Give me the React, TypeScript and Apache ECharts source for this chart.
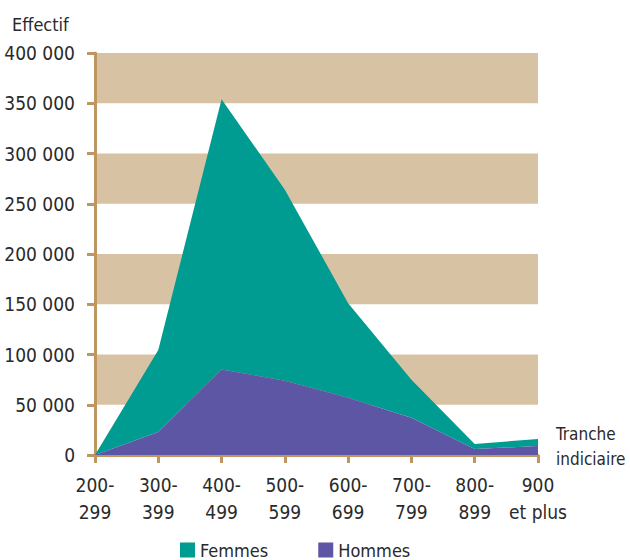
import React, { useEffect, useRef } from "react";
import * as echarts from "echarts";

const categories = ["200-\n299", "300-\n399", "400-\n499", "500-\n599", "600-\n699", "700-\n799", "800-\n899", "900\net plus"];
const hommes = [0, 23000, 85000, 74000, 57000, 37000, 6000, 9000];
const femmes = [0, 81500, 269000, 190000, 94000, 38000, 5000, 7000];
const yTicks = { min: 0, max: 400000, interval: 50000 };

const FONT = "'DejaVu Sans Condensed', sans-serif";
const AXIS = "#c09660";
const TEXT = "#2a2a2a";

function fmt(v: number) {
  return String(v).replace(/\B(?=(\d{3})+(?!\d))/g, " ");
}

export default function App() {
  const ref = useRef<HTMLDivElement>(null);
  useEffect(() => {
    const chart = echarts.init(ref.current!, null, { renderer: "svg" });
    chart.setOption({
      animation: false,
      textStyle: { fontFamily: FONT },
      grid: { left: 95, right: 92, top: 53, bottom: 105, containLabel: false, outerBoundsMode: "none" },
      legend: {
        data: ["Femmes", "Hommes"],
        left: 175,
        top: 536,
        icon: "rect",
        itemWidth: 15,
        itemHeight: 15,
        itemGap: 50,
        textStyle: { fontFamily: FONT, fontSize: 18, color: TEXT },
      },
      xAxis: {
        type: "category",
        data: categories,
        boundaryGap: false,
        name: "{a|Tranche}\n{a|indiciaire}\n{s| }",
        nameLocation: "end",
        nameGap: 18,
        nameMoveOverlap: false,
        nameTextStyle: {
          fontFamily: FONT,
          fontSize: 17,
          color: TEXT,
          align: "left",
          rich: {
            a: { fontFamily: FONT, fontSize: 17, color: TEXT, lineHeight: 25 },
            s: { fontSize: 10, lineHeight: 18 },
          },
        },
        axisLine: { lineStyle: { color: AXIS, width: 3 } },
        axisTick: { show: true, alignWithLabel: true, length: 8, lineStyle: { color: AXIS, width: 3 } },
        axisLabel: { fontFamily: FONT, fontSize: 19, color: TEXT, margin: 16, lineHeight: 27, interval: 0 },
        splitLine: { show: false },
      },
      yAxis: {
        type: "value",
        min: yTicks.min,
        max: yTicks.max,
        interval: yTicks.interval,
        name: "Effectif",
        nameLocation: "end",
        nameGap: 20,
        nameMoveOverlap: false,
        nameTextStyle: { fontFamily: FONT, fontSize: 18, color: TEXT, align: "left", padding: [0, 0, 0, -83] },
        axisLine: { show: true, lineStyle: { color: AXIS, width: 3 } },
        axisTick: { show: true, length: 8, lineStyle: { color: AXIS, width: 3 } },
        axisLabel: { fontFamily: FONT, fontSize: 19, color: TEXT, margin: 20, formatter: (v: number) => fmt(v) },
        splitLine: { show: false },
        splitArea: { show: true, areaStyle: { color: ["rgba(0,0,0,0)", "#d8c2a4"] } },
      },
      series: [
        {
          name: "Hommes",
          type: "line",
          stack: "total",
          data: hommes,
          showSymbol: false,
          lineStyle: { width: 0 },
          itemStyle: { color: "#5c56a5" },
          areaStyle: { color: "#5c56a5", opacity: 1 },
          z: 3,
        },
        {
          name: "Femmes",
          type: "line",
          stack: "total",
          data: femmes,
          showSymbol: false,
          lineStyle: { width: 0 },
          itemStyle: { color: "#009b91" },
          areaStyle: { color: "#009b91", opacity: 1 },
          z: 2,
        },
      ],
    });
    return () => chart.dispose();
  }, []);
  return <div ref={ref} style={{ width: 630, height: 560, position: "absolute", left: 0, top: 0 }} />;
}
